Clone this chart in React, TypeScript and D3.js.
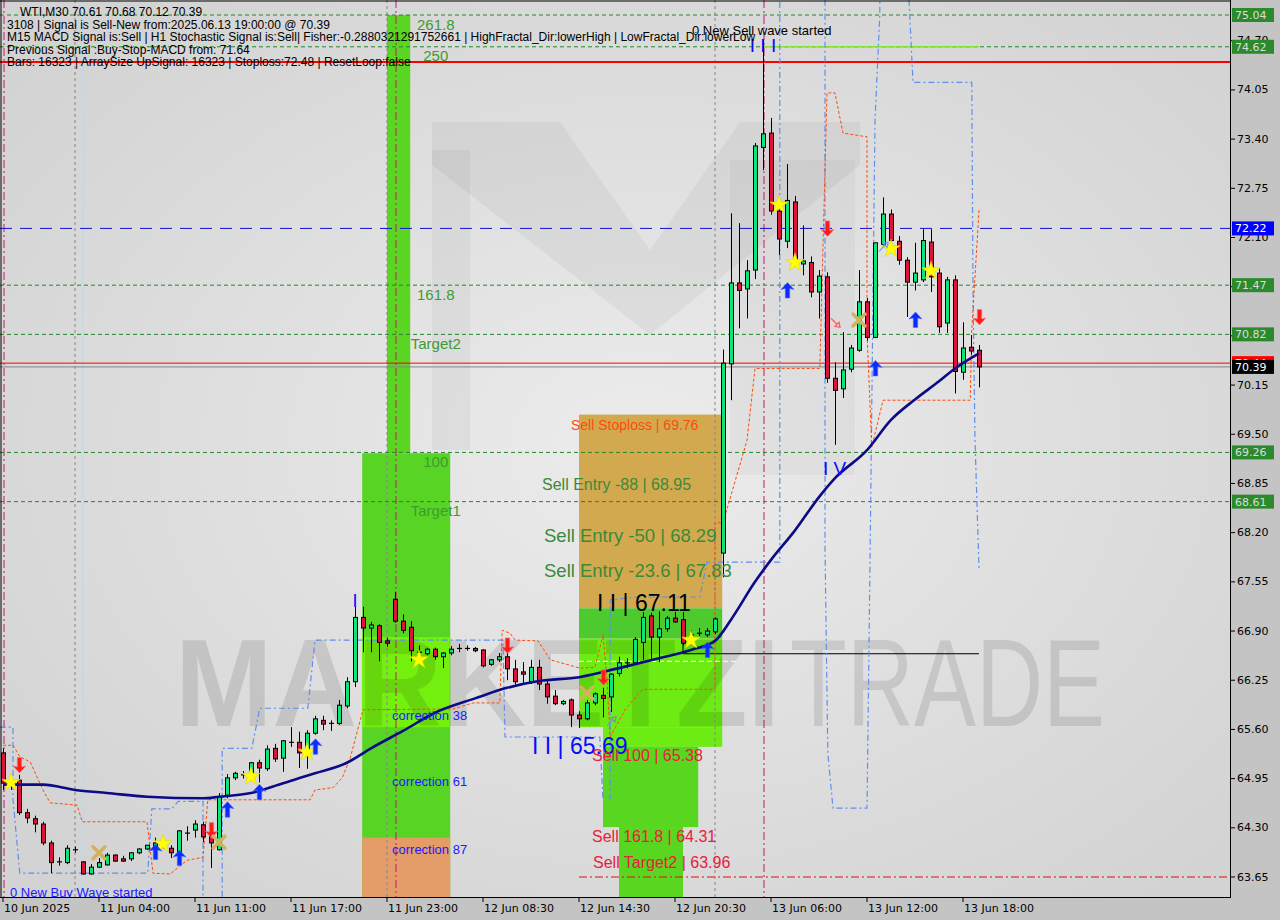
import React, { useRef, useEffect } from 'react';
import * as d3 from 'd3';

const WIDTH = 1280;
const HEIGHT = 920;
const PLOT_RIGHT = 1230;
const PLOT_BOTTOM = 897;

// WTI M30 bars, [open, high, low, close], oldest first
const candles: [number, number, number, number][] = [
  [65.29, 65.35, 64.80, 64.89], [64.92, 64.98, 64.80, 64.88], [64.93, 65.00, 64.47, 64.50], [64.50, 64.55, 64.36, 64.43],
  [64.42, 64.46, 64.24, 64.35], [64.35, 64.38, 64.07, 64.10], [64.10, 64.13, 63.70, 63.84], [63.84, 63.91, 63.80, 63.85],
  [63.84, 64.07, 63.82, 64.03], [64.01, 64.05, 63.97, 64.01], [63.85, 63.86, 63.68, 63.69], [63.69, 63.82, 63.68, 63.78],
  [63.78, 63.90, 63.77, 63.84], [63.81, 63.97, 63.80, 63.94], [63.94, 63.95, 63.85, 63.86], [63.89, 63.93, 63.85, 63.86],
  [63.89, 63.98, 63.86, 63.97], [63.97, 64.03, 63.95, 64.02], [64.02, 64.07, 64.01, 64.07], [64.05, 64.17, 63.98, 64.10],
  [64.06, 64.14, 64.03, 64.11], [64.03, 64.07, 63.90, 63.97], [63.97, 64.27, 63.94, 64.26], [64.23, 64.32, 64.13, 64.23],
  [64.27, 64.40, 64.17, 64.35], [64.34, 64.38, 64.11, 64.18], [64.19, 64.24, 63.77, 64.10], [64.01, 64.76, 64.00, 64.71],
  [64.73, 65.01, 64.69, 64.96], [64.96, 65.04, 64.93, 65.02], [65.00, 65.05, 64.95, 65.00], [64.96, 65.17, 64.93, 65.16],
  [65.16, 65.20, 64.90, 65.09], [65.08, 65.39, 65.05, 65.34], [65.35, 65.41, 65.17, 65.21], [65.22, 65.46, 65.04, 65.45],
  [65.43, 65.63, 65.37, 65.43], [65.43, 65.57, 65.09, 65.29], [65.33, 65.59, 65.08, 65.55], [65.55, 65.78, 65.53, 65.74],
  [65.72, 65.78, 65.59, 65.67], [65.68, 65.72, 65.58, 65.68], [65.68, 65.99, 65.66, 65.92], [65.91, 66.29, 65.88, 66.23],
  [66.23, 67.22, 66.16, 67.08], [67.08, 67.22, 66.62, 66.94], [66.94, 67.02, 66.62, 66.98], [66.97, 66.99, 66.50, 66.75],
  [66.77, 66.81, 66.69, 66.74], [67.32, 67.42, 67.01, 67.03], [67.03, 67.12, 66.87, 66.91], [66.95, 67.03, 66.50, 66.64],
  [66.62, 66.71, 66.56, 66.62], [66.60, 66.68, 66.58, 66.66], [66.66, 66.68, 66.52, 66.56], [66.56, 66.62, 66.41, 66.61],
  [66.61, 66.70, 66.58, 66.66], [66.67, 66.73, 66.62, 66.67], [66.67, 66.71, 66.64, 66.67], [66.67, 66.69, 66.62, 66.64],
  [66.65, 66.66, 66.42, 66.44], [66.46, 66.53, 66.44, 66.52], [66.52, 66.61, 66.49, 66.56], [66.56, 66.61, 66.25, 66.40],
  [66.40, 66.52, 66.19, 66.23], [66.36, 66.49, 66.19, 66.33], [66.23, 66.52, 66.20, 66.42], [66.42, 66.52, 66.12, 66.20],
  [66.20, 66.25, 65.94, 66.03], [66.04, 66.12, 65.92, 65.94], [65.94, 65.99, 65.92, 65.97], [65.99, 66.01, 65.63, 65.79],
  [65.79, 65.84, 65.62, 65.74], [65.74, 65.99, 65.72, 65.95], [65.95, 66.09, 65.92, 66.07], [66.05, 66.15, 65.76, 66.01],
  [66.03, 66.34, 65.83, 66.33], [66.34, 66.56, 66.30, 66.48], [66.48, 66.54, 66.41, 66.48], [66.48, 66.82, 66.45, 66.79],
  [66.75, 67.15, 66.52, 67.08], [67.10, 67.14, 66.52, 66.82], [66.82, 67.16, 66.49, 66.93], [66.93, 67.10, 66.89, 67.07],
  [67.07, 67.15, 67.01, 67.02], [67.05, 67.15, 66.71, 66.74], [66.85, 66.91, 66.78, 66.85], [66.87, 66.94, 66.83, 66.87],
  [66.85, 66.94, 66.82, 66.90], [66.89, 67.08, 66.86, 67.06], [67.93, 70.62, 67.61, 70.44], [70.43, 72.42, 69.95, 71.50],
  [71.50, 72.29, 70.90, 71.40], [71.42, 71.80, 71.03, 71.66], [71.67, 73.35, 71.55, 73.31], [73.29, 74.71, 72.99, 73.47],
  [73.48, 73.68, 72.40, 72.45], [72.45, 72.59, 71.87, 72.08], [72.05, 73.07, 71.96, 72.59], [72.57, 72.65, 71.74, 71.80],
  [71.75, 72.26, 71.60, 71.79], [71.77, 71.85, 71.31, 71.38], [71.38, 71.67, 71.03, 71.59], [71.58, 71.64, 70.18, 70.24],
  [70.24, 70.45, 69.36, 70.08], [70.10, 70.85, 69.98, 70.35], [70.36, 70.68, 70.32, 70.64], [70.61, 71.67, 70.59, 71.25],
  [71.25, 71.30, 70.74, 70.78], [70.78, 72.03, 70.77, 72.03], [72.01, 72.63, 71.99, 72.41], [72.41, 72.47, 72.04, 72.06],
  [72.05, 72.12, 71.74, 71.80], [71.80, 71.84, 71.05, 71.51], [71.51, 72.03, 71.40, 71.63], [71.54, 72.21, 71.51, 72.06],
  [72.04, 72.21, 71.38, 71.58], [71.63, 71.70, 70.84, 70.92], [70.97, 71.58, 70.84, 71.54], [71.54, 71.60, 70.04, 70.33],
  [70.32, 70.98, 70.22, 70.64], [70.65, 70.81, 70.55, 70.60], [70.61, 70.68, 70.12, 70.39],
];

// one label every 12 bars
const timeLabels = [
  '10 Jun 2025', '11 Jun 04:00', '11 Jun 11:00', '11 Jun 17:00', '11 Jun 23:00', '12 Jun 08:30',
  '12 Jun 14:30', '12 Jun 20:30', '13 Jun 06:00', '13 Jun 12:00', '13 Jun 18:00',
];

const priceTicks = [
  63.65, 64.30, 64.95, 65.60, 66.25, 66.90, 67.55, 68.20, 68.85,
  69.50, 70.15, 70.80, 71.45, 72.10, 72.75, 73.40, 74.05, 74.70,
];

// moving average, [bar, price]
const maPoints: [number, number][] = [
  [0, 64.87], [5, 64.87], [9, 64.80], [13, 64.76], [18, 64.71], [25, 64.69], [27, 64.71], [31, 64.76],
  [35, 64.89], [39, 65.02], [43, 65.16], [46, 65.35], [50, 65.58], [54, 65.82], [59, 66.01], [63, 66.15],
  [67, 66.24], [72, 66.29], [77, 66.41], [82, 66.54], [86, 66.65], [89, 66.77], [91, 67.05], [94, 67.55],
  [96, 67.84], [99, 68.23], [102, 68.67], [104, 68.92], [108, 69.29], [111, 69.69], [114, 69.96],
  [117, 70.20], [119, 70.37], [122, 70.57],
];

const fibLevels = [75.04, 74.62, 71.47, 70.82, 69.26, 68.61];
const fibNames = ['261.8', '250', '161.8', 'Target2', '100', 'Target1'];

const stopLine = 74.42;
const blueLevel = 72.22;
const askPrice = 70.44;
const bidPrice = 70.39;

// zone boxes: [fromBar, toBar, topPrice, bottomPrice, colour]
const zoneBoxes: [number, number, number, number, string][] = [
  [48, 50.9, 75.04, 69.25, '#5ad622'],
  [44.9, 55.9, 69.25, 63.3, '#58d524'],
  [44.9, 55.9, 66.82, 65.63, '#74f00e'],
  [44.9, 55.9, 64.17, 63.3, '#e49c68'],
  [72, 89.9, 69.76, 67.2, '#d3a94f'],
  [72, 89.9, 67.2, 66.8, '#4cca2e'],
  [72, 89.9, 66.8, 65.63, '#6cec12'],
  [75, 89.9, 65.63, 65.37, '#6cec12'],
  [75, 86.9, 65.37, 64.31, '#58d620'],
  [77, 85, 64.31, 63.3, '#58d620'],
];

// trailing stop / fractal channel lines, [bar, price]
const orangeTrail: [number, number][] = [
  [0, 65.39], [1.25, 65.39], [2.1, 65.24], [3.4, 65.17], [5, 64.80], [5.9, 64.63], [9.25, 64.60], [9.9, 64.38],
  [18, 64.38], [18.75, 63.70], [20.9, 63.69], [23, 63.87], [25, 63.91], [25.6, 64.67], [38.4, 64.67], [39, 64.80],
  [41.25, 64.83], [42.4, 64.96], [43.4, 65.22], [45, 65.86], [56.25, 65.87], [58.75, 65.95], [62.1, 65.95],
  [62.4, 66.91], [63.4, 66.87], [64, 66.78], [66.9, 66.77], [68.4, 66.52], [72.1, 66.41], [74, 66.42],
  [75, 66.85], [75.5, 66.25], [75.9, 65.50], [77.75, 65.86], [79.6, 66.09], [80, 66.13], [89, 66.13],
  [89, 68.33], [90, 68.33], [93, 69.42], [94, 70.37], [102.1, 70.37], [103, 74.01], [104, 74.01],
  [105, 73.48], [108, 73.43], [108, 70.84], [108.6, 69.33], [110, 69.95], [120.9, 69.95], [121.1, 70.88],
  [122, 72.46],
];

const blueChannels: [number, number][][] = [
  [[-0.4, 65.63], [1.25, 65.63], [1.25, 64.67], [2.1, 63.70], [18.1, 63.70], [18.6, 64.55], [21.1, 64.55],
    [21.9, 64.65], [25, 64.65], [25, 63.39]],
  [[27.4, 63.39], [27.4, 65.35], [31.1, 65.35], [32.1, 65.88], [38.1, 65.88], [39, 66.78], [62.5, 66.78],
    [62.75, 65.50], [74.6, 65.50], [75, 64.67]],
  [[75.9, 64.67], [75.9, 67.31], [79.25, 67.35], [87.1, 67.35], [88, 67.81], [97.1, 67.81], [97.1, 75.24]],
  [[102.75, 75.24], [102.75, 68.01], [103.1, 65.29], [103.75, 64.56], [108, 64.56], [108.4, 68.01],
    [109, 73.65], [109.6, 75.04], [109.6, 75.24]],
  [[113.25, 75.24], [113.75, 74.15], [121.1, 74.15], [121.25, 71.40], [121.5, 69.42], [122, 67.73]],
];

// signal markers, [bar, price]
const stars: [number, number][] = [
  [1, 64.90], [20, 64.09], [31, 64.98], [38, 65.30], [52, 66.52], [86, 66.78], [97, 72.53], [99, 71.77],
  [111, 71.95], [116, 71.66],
];
const buyArrows: [number, number][] = [
  [19, 63.98], [22, 63.90], [28, 64.54], [32, 64.77], [39, 65.37], [88, 66.65], [98, 71.40], [109, 70.37], [114, 71.01],
];
const sellArrows: [number, number][] = [
  [2, 65.13], [26, 64.27], [63, 66.71], [75, 66.29], [103, 72.22], [122, 71.05],
];
const crosses: [number, number][] = [[12, 63.97], [27, 64.11], [73, 66.08], [107, 71.01]];

const infoLines = [
  'WTI,M30  70.61 70.68 70.12 70.39',
  '3108 | Signal is Sell-New from:2025.06.13 19:00:00 @ 70.39',
  'M15 MACD Signal is:Sell | H1 Stochastic Signal is:Sell| Fisher:-0.2880321291752661 | HighFractal_Dir:lowerHigh | LowFractal_Dir:lowerLow',
  'Previous Signal :Buy-Stop-MACD from: 71.64',
  'Bars: 16323 | ArraySize UpSignal: 16323 | Stoploss:72.48 | ResetLoop:false',
];

const App: React.FC = () => {
  const svgRef = useRef<SVGSVGElement>(null);

  useEffect(() => {
    if (!svgRef.current) return;
    const svg = d3.select(svgRef.current);
    svg.selectAll('*').remove();

    const x = d3.scaleLinear().domain([0, candles.length - 1]).range([3, 979]);
    const y = d3.scaleLinear().domain([63.65, 75.04]).range([877, 15]);

    // background
    const defs = svg.append('defs');
    const grad = defs.append('radialGradient').attr('id', 'bg').attr('cx', '52%').attr('cy', '50%').attr('r', '65%');
    grad.append('stop').attr('offset', '0%').attr('stop-color', '#ececec');
    grad.append('stop').attr('offset', '100%').attr('stop-color', '#d3d3d3');
    defs.append('clipPath').attr('id', 'plot').append('rect')
      .attr('x', 0).attr('y', 0).attr('width', PLOT_RIGHT).attr('height', PLOT_BOTTOM);

    svg.append('rect').attr('width', WIDTH).attr('height', HEIGHT).attr('fill', '#c4c4c4');
    svg.append('rect').attr('width', PLOT_RIGHT).attr('height', PLOT_BOTTOM).attr('fill', 'url(#bg)');

    const g = svg.append('g').attr('clip-path', 'url(#plot)');

    // logo watermark
    const logo = g.append('g').attr('fill', '#000');
    logo.append('polygon').attr('points', '432,122 560,122 650,250 740,122 860,122 860,165 650,335 432,165')
      .attr('opacity', 0.045);
    logo.append('rect').attr('x', 432).attr('y', 150).attr('width', 38).attr('height', 300).attr('opacity', 0.04);
    logo.append('rect').attr('x', 730).attr('y', 160).attr('width', 125).attr('height', 315).attr('opacity', 0.03);

    // zones
    zoneBoxes.forEach(([k0, k1, top, bottom, fill]) => {
      g.append('rect')
        .attr('x', x(k0)).attr('width', x(k1) - x(k0))
        .attr('y', y(top)).attr('height', y(bottom) - y(top))
        .attr('fill', fill);
    });

    // big text watermark
    g.append('text').attr('x', 175).attr('y', 726)
      .attr('font-family', 'Liberation Sans, Arial, sans-serif').attr('font-weight', 'bold')
      .attr('font-size', 124).attr('textLength', 605).attr('lengthAdjust', 'spacingAndGlyphs')
      .attr('fill', '#000').attr('opacity', 0.1).text('MARKETZI');
    g.append('text').attr('x', 790).attr('y', 726)
      .attr('font-family', 'Liberation Sans, Arial, sans-serif')
      .attr('font-size', 124).attr('textLength', 315).attr('lengthAdjust', 'spacingAndGlyphs')
      .attr('fill', '#000').attr('opacity', 0.1).text('TRADE');

    // vertical separators
    [9, 48, 89].forEach(k => {
      g.append('line').attr('x1', x(k)).attr('x2', x(k)).attr('y1', 0).attr('y2', PLOT_BOTTOM)
        .attr('stroke', '#858585').attr('stroke-dasharray', '3,3');
    });
    [0, 49, 95].forEach(k => {
      g.append('line').attr('x1', x(k) + 1).attr('x2', x(k) + 1).attr('y1', 0).attr('y2', PLOT_BOTTOM)
        .attr('stroke', '#c2186e').attr('stroke-dasharray', '8,3,2,3');
    });
    g.append('line').attr('x1', x(10)).attr('x2', x(10)).attr('y1', 0).attr('y2', PLOT_BOTTOM)
      .attr('stroke', '#b3dcf2');

    // horizontal levels
    fibLevels.forEach(p => {
      g.append('line').attr('x1', 0).attr('x2', PLOT_RIGHT).attr('y1', y(p)).attr('y2', y(p))
        .attr('stroke', '#23862a').attr('stroke-dasharray', '4,3');
    });
    g.append('line').attr('x1', x(95)).attr('x2', x(122)).attr('y1', y(74.62)).attr('y2', y(74.62))
      .attr('stroke', '#88e03a').attr('stroke-width', 1.5);
    g.append('line').attr('x1', 0).attr('x2', PLOT_RIGHT).attr('y1', y(stopLine)).attr('y2', y(stopLine))
      .attr('stroke', '#ff0000').attr('stroke-width', 2);
    g.append('line').attr('x1', 0).attr('x2', PLOT_RIGHT).attr('y1', y(blueLevel)).attr('y2', y(blueLevel))
      .attr('stroke', '#1010d0').attr('stroke-dasharray', '12,8');
    g.append('line').attr('x1', 0).attr('x2', PLOT_RIGHT).attr('y1', y(askPrice)).attr('y2', y(askPrice))
      .attr('stroke', '#ff0000');
    g.append('line').attr('x1', 0).attr('x2', PLOT_RIGHT).attr('y1', y(bidPrice)).attr('y2', y(bidPrice))
      .attr('stroke', '#858585');
    g.append('line').attr('x1', x(72)).attr('x2', PLOT_RIGHT).attr('y1', y(63.65)).attr('y2', y(63.65))
      .attr('stroke', '#e01010').attr('stroke-dasharray', '8,3,2,3');
    g.append('line').attr('x1', x(72)).attr('x2', x(92)).attr('y1', y(66.50)).attr('y2', y(66.50))
      .attr('stroke', '#ffffff').attr('stroke-dasharray', '5,3');
    g.append('path')
      .attr('d', `M${x(85)},${y(66.75)}V${y(66.60)}H${x(122)}`)
      .attr('fill', 'none').attr('stroke', '#000');

    // channel lines
    const lineGen = d3.line<[number, number]>().x(d => x(d[0])).y(d => y(d[1]));
    blueChannels.forEach(pts => {
      g.append('path').attr('d', lineGen(pts)).attr('fill', 'none')
        .attr('stroke', '#5f8fee').attr('stroke-width', 1.2).attr('stroke-dasharray', '6,3,2,3');
    });
    g.append('path').attr('d', lineGen(orangeTrail)).attr('fill', 'none')
      .attr('stroke', '#ff4a0a').attr('stroke-width', 1).attr('stroke-dasharray', '3,2');

    // candles
    const cg = g.append('g');
    candles.forEach(([o, h, l, c], i) => {
      const cx = Math.round(x(i)) + 0.5;
      cg.append('line').attr('x1', cx).attr('x2', cx).attr('y1', y(h)).attr('y2', y(l)).attr('stroke', '#000');
      if (Math.abs(o - c) < 0.015) {
        cg.append('line').attr('x1', cx - 2.5).attr('x2', cx + 2.5).attr('y1', y(c)).attr('y2', y(c))
          .attr('stroke', '#000').attr('stroke-width', 1.2);
      } else {
        const top = y(Math.max(o, c));
        const bot = y(Math.min(o, c));
        cg.append('rect').attr('x', cx - 2).attr('width', 4)
          .attr('y', top).attr('height', Math.max(bot - top, 1))
          .attr('fill', c > o ? '#0de47a' : '#dc143c').attr('stroke', '#000');
      }
    });

    // moving average
    const maLine = d3.line<[number, number]>().x(d => x(d[0])).y(d => y(d[1])).curve(d3.curveMonotoneX);
    g.append('path').attr('d', maLine(maPoints)).attr('fill', 'none')
      .attr('stroke', '#0b0b86').attr('stroke-width', 2.6);

    // markers
    const starPath = d3.symbol().type(d3.symbolStar).size(105)();
    stars.forEach(([k, p]) => {
      g.append('path').attr('d', starPath).attr('transform', `translate(${x(k)},${y(p)})`)
        .attr('fill', '#ffff00').attr('stroke', '#e6d400').attr('stroke-width', 0.6);
    });
    const upArrow = 'M0,-8 L6.5,-1 L2.2,-2 L2.2,7.5 L-2.2,7.5 L-2.2,-2 L-6.5,-1 Z';
    buyArrows.forEach(([k, p]) => {
      g.append('path').attr('d', upArrow).attr('transform', `translate(${x(k) + 0.5},${y(p)})`)
        .attr('fill', '#0a2cff').attr('stroke', '#4a6cff').attr('stroke-width', 0.6);
    });
    sellArrows.forEach(([k, p]) => {
      g.append('path').attr('d', upArrow).attr('transform', `translate(${x(k) + 0.5},${y(p)}) scale(1,-1)`)
        .attr('fill', '#ff1a1a').attr('stroke', '#ff7a7a').attr('stroke-width', 0.6);
    });
    crosses.forEach(([k, p]) => {
      const cx = x(k), cy = y(p);
      g.append('path').attr('d', `M${cx - 6},${cy - 6}L${cx + 6},${cy + 6}M${cx + 6},${cy - 6}L${cx - 6},${cy + 6}`)
        .attr('stroke', '#d3b25c').attr('stroke-width', 3.5).attr('stroke-linecap', 'round');
    });
    // hollow diagonal arrows
    const hollow = 'M-4,4 L2,-2 L0,-4 L5,-5 L4,0 L2,-2';
    [[76, 65.70, '#7f8fb0', 0], [110, 71.97, '#6f9ff0', 0], [104, 70.98, '#ff6060', 90]].forEach(([k, p, col, rot]) => {
      g.append('path').attr('d', hollow)
        .attr('transform', `translate(${x(k as number)},${y(p as number)}) rotate(${rot})`)
        .attr('fill', 'none').attr('stroke', col as string).attr('stroke-width', 1.3);
    });

    // fib level labels
    fibLevels.forEach((p, i) => {
      g.append('text').attr('x', x(54.1)).attr('y', y(p) + 9).attr('text-anchor', 'middle')
        .attr('dominant-baseline', 'central')
        .attr('font-family', 'Liberation Sans, Arial, sans-serif').attr('font-size', 15)
        .attr('fill', '#3f9a30').text(fibNames[i]);
    });

    const arial = 'Liberation Sans, Arial, sans-serif';
    const label = (tx: number, ty: number, text: string, size: number, fill: string, anchor = 'start') => {
      g.append('text').attr('x', tx).attr('y', ty).attr('text-anchor', anchor)
        .attr('dominant-baseline', 'central')
        .attr('font-family', arial).attr('font-size', size).attr('fill', fill).text(text);
    };

    label(392, y(65.66) - 9, 'correction 38', 13, '#1a1aff');
    label(392, y(64.81) - 8, 'correction 61', 13, '#1a1aff');
    label(392, y(63.90) - 9, 'correction 87', 13, '#1a1aff');

    label(571, y(69.76) + 10, 'Sell Stoploss | 69.76', 14, '#ff4a0a');
    label(542, y(68.95) + 9, 'Sell Entry -88 | 68.95', 16, '#3a8a3a');
    label(544, y(68.29) + 10, 'Sell Entry -50 | 68.29', 18.5, '#3a8a3a');
    label(544, y(67.83) + 10, 'Sell Entry -23.6 | 67.83', 18.5, '#3a8a3a');
    label(597, y(67.11) - 12, 'I I | 67.11', 23, '#000');
    label(532, y(65.69) + 23, 'I I | 65.69', 23, '#0a0aff');
    label(592, y(65.38) + 9, 'Sell 100 | 65.38', 16, '#e8203c');
    label(592, y(64.31) + 9, 'Sell 161.8 | 64.31', 16, '#e8203c');
    label(593, y(63.96) + 9, 'Sell Target2 | 63.96', 16, '#e8203c');

    label(692, 30, '0 New Sell wave started', 13, '#000');
    label(x(95), 45, 'I I I', 19, '#0a0aff', 'middle');
    label(x(103) - 4, y(69.26) + 16, 'I V', 19, '#0a0aff');
    label(x(44), y(67.30), 'I', 18, '#0a0aff', 'middle');
    label(10, 892, '0 New Buy Wave started', 13, '#1a1aff');

    // info block
    infoLines.forEach((t, i) => {
      g.append('text').attr('x', i === 0 ? 20 : 7).attr('y', 12 + i * 12.6).attr('dominant-baseline', 'central')
        .attr('font-family', arial).attr('font-size', 12).attr('fill', '#000').text(t);
    });

    // frame
    svg.append('line').attr('x1', PLOT_RIGHT + 0.5).attr('x2', PLOT_RIGHT + 0.5).attr('y1', 0).attr('y2', PLOT_BOTTOM + 1)
      .attr('stroke', '#000');
    svg.append('line').attr('x1', 0).attr('x2', PLOT_RIGHT + 1).attr('y1', PLOT_BOTTOM + 0.5).attr('y2', PLOT_BOTTOM + 0.5)
      .attr('stroke', '#000');
    svg.append('line').attr('x1', 0).attr('x2', PLOT_RIGHT).attr('y1', 1).attr('y2', 1).attr('stroke', '#000');
    svg.append('line').attr('x1', 1).attr('x2', 1).attr('y1', 0).attr('y2', PLOT_BOTTOM).attr('stroke', '#000');

    // price axis
    const axisFont = 'DejaVu Sans, Verdana, sans-serif';
    priceTicks.forEach(p => {
      svg.append('line').attr('x1', PLOT_RIGHT).attr('x2', PLOT_RIGHT + 5).attr('y1', y(p)).attr('y2', y(p))
        .attr('stroke', '#000');
      svg.append('text').attr('x', PLOT_RIGHT + 7).attr('y', y(p)).attr('dominant-baseline', 'central')
        .attr('font-family', axisFont).attr('font-size', 11).attr('fill', '#000').text(p.toFixed(2));
    });
    const tag = (p: number, fill: string, color: string) => {
      svg.append('rect').attr('x', PLOT_RIGHT + 2).attr('y', y(p) - 7).attr('width', 42).attr('height', 14)
        .attr('fill', fill);
      svg.append('text').attr('x', PLOT_RIGHT + 5).attr('y', y(p) + 0.5).attr('dominant-baseline', 'central')
        .attr('font-family', axisFont).attr('font-size', 11).attr('fill', color).text(p.toFixed(2));
    };
    fibLevels.forEach(p => tag(p, '#2b8a2b', '#dcdcdc'));
    tag(blueLevel, '#0000ff', '#ffffff');
    tag(askPrice, '#ff0000', '#ffffff');
    tag(bidPrice, '#000000', '#ffffff');

    // time axis
    timeLabels.forEach((t, i) => {
      const tx = x(i * 12);
      svg.append('line').attr('x1', tx).attr('x2', tx).attr('y1', PLOT_BOTTOM).attr('y2', PLOT_BOTTOM + 5)
        .attr('stroke', '#000');
      svg.append('text').attr('x', tx + 1).attr('y', PLOT_BOTTOM + 11).attr('dominant-baseline', 'central')
        .attr('font-family', axisFont).attr('font-size', 11).attr('fill', '#000').text(t);
    });
  }, []);

  return (
    <svg
      ref={svgRef}
      width={WIDTH}
      height={HEIGHT}
      style={{ position: 'absolute', left: 0, top: 0, display: 'block' }}
    />
  );
};

export default App;
